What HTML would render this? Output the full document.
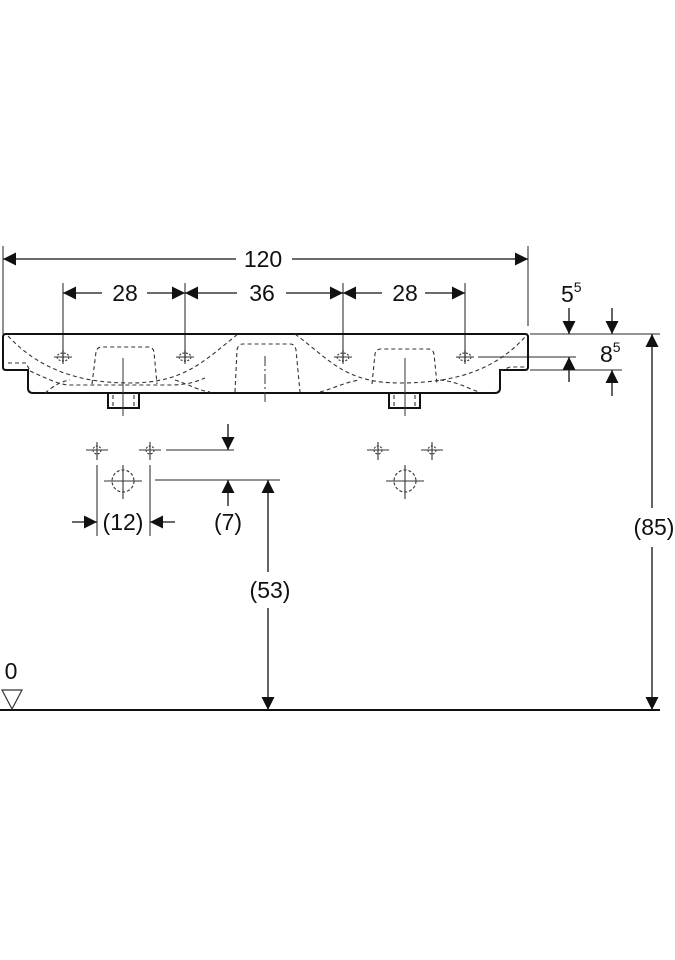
<!DOCTYPE html>
<html><head><meta charset="utf-8"><style>
html,body{margin:0;padding:0;background:#fff;}
svg{display:block;}
text{font-family:"Liberation Sans",Arial,sans-serif;fill:#111;}
</style></head><body>
<svg width="675" height="960" viewBox="0 0 675 960" xmlns="http://www.w3.org/2000/svg">
<defs>
<marker id="a" viewBox="0 0 10 10" refX="10" refY="5" markerWidth="13" markerHeight="13" markerUnits="userSpaceOnUse" orient="auto"><path d="M0,0 L10,5 L0,10 z" fill="#111"/></marker>
</defs>
<g stroke="#555" stroke-width="1.3" fill="none">
<line x1="3" y1="246" x2="3" y2="334"/>
<line x1="528" y1="246" x2="528" y2="326"/>
<line x1="63" y1="283" x2="63" y2="362"/>
<line x1="185" y1="283" x2="185" y2="362"/>
<line x1="343" y1="283" x2="343" y2="362"/>
<line x1="465" y1="283" x2="465" y2="362"/>
<line x1="236" y1="259" x2="3" y2="259" stroke="#111" marker-end="url(#a)"/>
<line x1="292" y1="259" x2="528" y2="259" stroke="#111" marker-end="url(#a)"/>
<line x1="102" y1="293" x2="63" y2="293" stroke="#111" marker-end="url(#a)"/>
<line x1="147" y1="293" x2="185" y2="293" stroke="#111" marker-end="url(#a)"/>
<line x1="237" y1="293" x2="185" y2="293" stroke="#111" marker-end="url(#a)"/>
<line x1="286" y1="293" x2="343" y2="293" stroke="#111" marker-end="url(#a)"/>
<line x1="382" y1="293" x2="343" y2="293" stroke="#111" marker-end="url(#a)"/>
<line x1="425" y1="293" x2="465" y2="293" stroke="#111" marker-end="url(#a)"/>
<line x1="530" y1="334" x2="660" y2="334"/>
<line x1="478" y1="357" x2="576" y2="357"/>
<line x1="530" y1="370" x2="622" y2="370"/>
<line x1="569" y1="308" x2="569" y2="334" stroke="#111" marker-end="url(#a)"/>
<line x1="612" y1="308" x2="612" y2="334" stroke="#111" marker-end="url(#a)"/>
<line x1="569" y1="382" x2="569" y2="357" stroke="#111" marker-end="url(#a)"/>
<line x1="612" y1="396" x2="612" y2="370" stroke="#111" marker-end="url(#a)"/>
<line x1="652" y1="508" x2="652" y2="334" stroke="#111" marker-end="url(#a)"/>
<line x1="652" y1="547" x2="652" y2="710" stroke="#111" marker-end="url(#a)"/>
<line x1="155" y1="480" x2="280" y2="480"/>
<line x1="268" y1="572" x2="268" y2="480" stroke="#111" marker-end="url(#a)"/>
<line x1="268" y1="608" x2="268" y2="710" stroke="#111" marker-end="url(#a)"/>
<line x1="166" y1="450" x2="234" y2="450"/>
<line x1="228" y1="424" x2="228" y2="450" stroke="#111" marker-end="url(#a)"/>
<line x1="228" y1="506" x2="228" y2="480" stroke="#111" marker-end="url(#a)"/>
<line x1="97" y1="465" x2="97" y2="536"/>
<line x1="150" y1="465" x2="150" y2="536"/>
<line x1="72" y1="522" x2="97" y2="522" stroke="#111" marker-end="url(#a)"/>
<line x1="175" y1="522" x2="150" y2="522" stroke="#111" marker-end="url(#a)"/>
</g>
<line x1="0" y1="710" x2="660" y2="710" stroke="#111" stroke-width="2"/>
<path d="M2,690 L22,690 L12,709 z" fill="none" stroke="#333" stroke-width="1.2"/>
<g stroke="#111" stroke-width="2" fill="none">
<path d="M6,334 L525,334 Q528,334 528,337 L528,367 Q528,370 525,370 L500,370 L500,388 Q500,393 495,393 L33,393 Q28,393 28,388 L28,370 L6,370 Q3,370 3,367 L3,337 Q3,334 6,334 z"/>
<path d="M108,393 L108,408 L139,408 L139,393"/>
<path d="M389,393 L389,408 L420,408 L420,393"/>
</g>
<g stroke="#333" stroke-width="1.1" fill="none" stroke-dasharray="4,3">
<path d="M8,336 C40,370 80,383 130,383 C185,383 205,360 238,334"/>
<path d="M295,334 C330,360 345,383 400,383 C455,383 495,370 525,337"/>
<path d="M8,363 L26,363 L30,371 M30,371 C50,380 60,385 70,385 L170,385 C190,385 200,380 205,378"/>
<path d="M45,393 C55,385 60,382 70,380 M175,380 C190,385 200,391 210,392"/>
<path d="M92,384 L96,352 Q97,347 102,347 L148,347 Q153,347 154,352 L157,384"/>
<path d="M235,392 L237,350 Q238,344 243,344 L290,344 Q295,344 296,350 L300,392"/>
<path d="M372,384 L375,354 Q376,349 381,349 L428,349 Q433,349 434,354 L437,384"/>
<path d="M320,392 C335,388 345,382 360,380 M440,380 C460,382 470,390 480,392 M500,371 L510,367 L526,367"/>
<path d="M113,395 L113,406 M134,395 L134,406 M394,395 L394,406 M415,395 L415,406"/>
</g>
<g stroke="#333" stroke-width="1" fill="none">
<line x1="123" y1="358" x2="123" y2="416"/>
<line x1="265" y1="356" x2="265" y2="402" stroke-dasharray="10,3,2,3"/>
<line x1="405" y1="358" x2="405" y2="416"/>
</g>
<g stroke="#333" stroke-width="1.1" fill="none">
<g transform="translate(63,357)"><ellipse rx="6" ry="4" stroke-dasharray="2,1.5"/><line x1="-9" x2="9"/><line y1="-7" y2="7"/></g>
<g transform="translate(185,357)"><ellipse rx="6" ry="4" stroke-dasharray="2,1.5"/><line x1="-9" x2="9"/><line y1="-7" y2="7"/></g>
<g transform="translate(343,357)"><ellipse rx="6" ry="4" stroke-dasharray="2,1.5"/><line x1="-9" x2="9"/><line y1="-7" y2="7"/></g>
<g transform="translate(465,357)"><ellipse rx="6" ry="4" stroke-dasharray="2,1.5"/><line x1="-9" x2="9"/><line y1="-7" y2="7"/></g>
<g transform="translate(97,450)"><circle r="4" stroke-dasharray="2,1.5"/><line x1="-11" x2="11"/><line y1="-8" y2="10"/></g>
<g transform="translate(150,450)"><circle r="4" stroke-dasharray="2,1.5"/><line x1="-11" x2="11"/><line y1="-8" y2="10"/></g>
<g transform="translate(378,450)"><circle r="4" stroke-dasharray="2,1.5"/><line x1="-11" x2="11"/><line y1="-8" y2="10"/></g>
<g transform="translate(432,450)"><circle r="4" stroke-dasharray="2,1.5"/><line x1="-11" x2="11"/><line y1="-8" y2="10"/></g>
<g transform="translate(123,481)"><circle r="11" stroke-dasharray="3,2"/><line x1="-19" x2="19"/><line y1="-16" y2="18"/></g>
<g transform="translate(405,481)"><circle r="11" stroke-dasharray="3,2"/><line x1="-19" x2="19"/><line y1="-16" y2="18"/></g>
</g>
<g font-size="23" text-anchor="middle">
<text x="263" y="267">120</text>
<text x="125" y="301">28</text>
<text x="262" y="301">36</text>
<text x="405" y="301">28</text>
<text x="123" y="530">(12)</text>
<text x="228" y="530">(7)</text>
<text x="270" y="598">(53)</text>
<text x="654" y="535">(85)</text>
<text x="11" y="679">0</text>
</g>
<text x="561" y="302" font-size="23">5<tspan font-size="14" dy="-10">5</tspan></text>
<text x="600" y="362" font-size="23">8<tspan font-size="14" dy="-10">5</tspan></text>
</svg>
</body></html>
